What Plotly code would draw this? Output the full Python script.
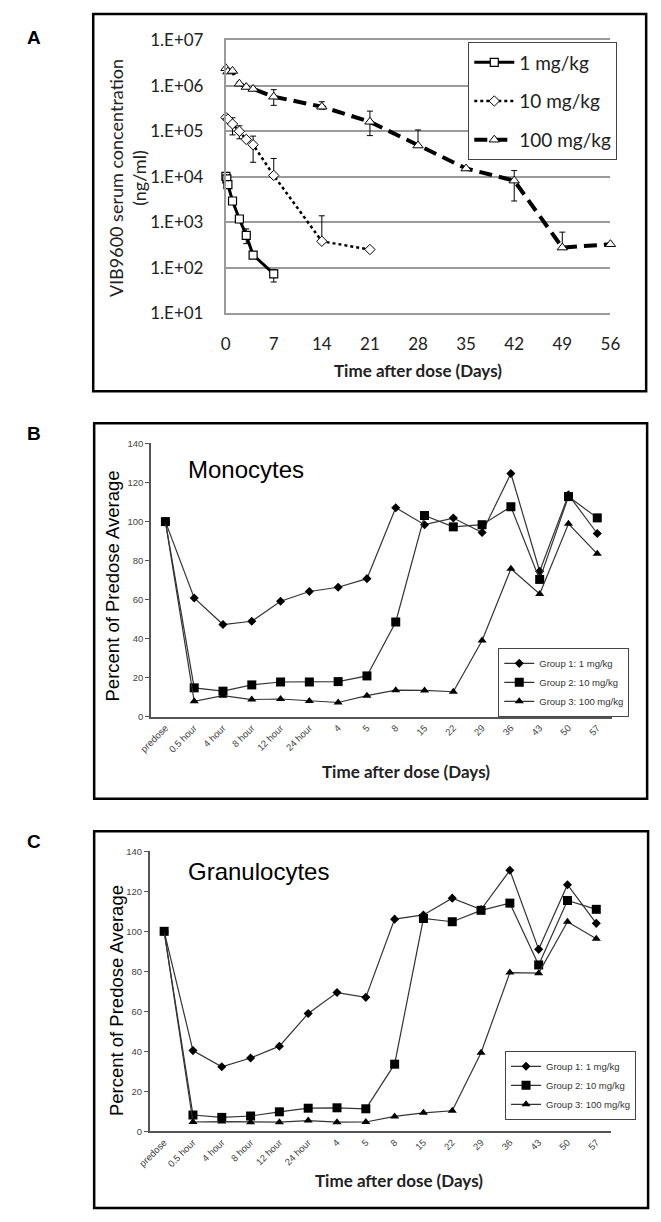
import plotly.graph_objects as go

W, H = 661, 1222

# ---------------- Panel A data (serum concentration, ng/ml) ----------------
t_1mg = [0.04, 0.17, 0.33, 1, 2, 3, 4, 7]
c_1mg = [10300, 9100, 6800, 2960, 1190, 519, 192, 74]
hi_1mg = [None, None, None, None, None, 721, None, 91]
lo_1mg = [None, None, None, None, None, 342, None, 49]

t_10mg = [0.04, 0.33, 1, 2, 3, 4, 7, 14, 21]
c_10mg = [203000, 187000, 146000, 101000, 67000, 51000, 10800, 385, 254]
hi_10mg = [None, None, 200000, 133000, None, 79000, 25500, 1400, None]
lo_10mg = [None, None, 84000, 69000, None, 21000, None, None, None]

t_100mg = [0.04, 0.33, 1, 2, 3, 4, 7, 14, 21, 28, 35, 42, 49, 56]
c_100mg = [2450000, 2070000, 2140000, 1120000, 950000, 860000, 580000,
           350000, 163000, 49000, 15300, 8300, 280, 332]
hi_100mg = [None, None, None, None, None, None, 830000, 450000, 280000,
            108000, None, 13800, 612, None]
lo_100mg = [None, None, None, None, None, None, 375000, 310000, 81000,
            None, None, 2960, None, None]

a_xticks = [0, 7, 14, 21, 28, 35, 42, 49, 56]
a_yticks = [1e1, 1e2, 1e3, 1e4, 1e5, 1e6, 1e7]
a_yticktext = ["1.E+01", "1.E+02", "1.E+03", "1.E+04", "1.E+05", "1.E+06", "1.E+07"]

# ---------------- Panels B / C data (% of predose average) ----------------
timepoints = ["predose", "0.5 hour", "4 hour", "8 hour", "12 hour", "24 hour",
              "4", "5", "8", "15", "22", "29", "36", "43", "50", "57"]
mono_g1 = [100, 60.9, 47.3, 49, 59.2, 64.2, 66.4, 70.8, 107.1, 98.4, 101.8, 94.4, 124.6, 74.6, 113.7, 93.9]
mono_g2 = [100, 14.9, 13.2, 16.4, 17.9, 17.9, 18.1, 21, 48.6, 103.1, 97.3, 98.4, 107.6, 70.4, 112.8, 101.9]
mono_g3 = [100, 8, 10.9, 8.9, 9.2, 8.2, 7.4, 10.9, 13.7, 13.6, 12.9, 39.1, 75.8, 62.9, 98.9, 83.5]
gran_g1 = [100, 40.4, 32.3, 36.7, 42.6, 58.9, 69.4, 67, 106.1, 108.2, 116.6, 110.9, 130.5, 91, 123.3, 104]
gran_g2 = [100, 8.2, 7.0, 7.7, 9.8, 11.6, 11.8, 11.3, 33.6, 106.4, 104.8, 110.5, 114.1, 83.2, 115.4, 111]
gran_g3 = [100, 4.7, 4.9, 4.6, 4.6, 5.4, 4.6, 4.7, 7.5, 9.3, 10.3, 39.3, 79.4, 79.1, 104.8, 96.3]
group_names = ["Group 1: 1 mg/kg", "Group 2: 10 mg/kg", "Group 3: 100 mg/kg"]


def px(x):
    return x / W


def py(y):
    return 1 - y / H


def err(vals, his, los):
    plus = [(h - v) if h is not None else 0 for v, h in zip(vals, his)]
    minus = [(v - l) if l is not None else 0 for v, l in zip(vals, los)]
    return dict(type="data", symmetric=False, array=plus, arrayminus=minus,
                color="black", thickness=1, width=3)


fig = go.Figure()

# ---- Panel A traces ----
fig.add_trace(go.Scatter(
    x=t_1mg, y=c_1mg, name="1 mg/kg", mode="lines+markers",
    line=dict(color="black", width=3),
    marker=dict(symbol="square", size=8, color="white", line=dict(color="black", width=1.2)),
    error_y=err(c_1mg, hi_1mg, lo_1mg), cliponaxis=False,
    xaxis="x", yaxis="y", legend="legend", legendgroup="a1"))
fig.add_trace(go.Scatter(
    x=t_10mg, y=c_10mg, name="10 mg/kg", mode="lines+markers",
    line=dict(color="black", width=2.5, dash="dot"),
    marker=dict(symbol="diamond", size=8, color="white", line=dict(color="black", width=1)),
    error_y=err(c_10mg, hi_10mg, lo_10mg), cliponaxis=False,
    xaxis="x", yaxis="y", legend="legend", legendgroup="a2"))
fig.add_trace(go.Scatter(
    x=t_100mg, y=c_100mg, name="100 mg/kg", mode="lines+markers",
    line=dict(color="black", width=4, dash="13px,7px"),
    marker=dict(symbol="triangle-up", size=9, color="white", line=dict(color="black", width=1)),
    error_y=err(c_100mg, hi_100mg, lo_100mg), cliponaxis=False,
    xaxis="x", yaxis="y", legend="legend", legendgroup="a3"))

# ---- Panels B and C traces ----
symbols = ["diamond", "square", "triangle-up"]
sizes = [7, 9, 8]
for (series, xa, ya, lg) in [((mono_g1, mono_g2, mono_g3), "x2", "y2", "legend2"),
                             ((gran_g1, gran_g2, gran_g3), "x3", "y3", "legend3")]:
    for vals, nm, sym, sz in zip(series, group_names, symbols, sizes):
        fig.add_trace(go.Scatter(
            x=timepoints, y=vals, name=nm, mode="lines+markers",
            line=dict(color="#333333", width=1.2),
            marker=dict(symbol=sym, size=sz, color="black"),
            cliponaxis=False,
            xaxis=xa, yaxis=ya, legend=lg))

tickfont_small = dict(family="Liberation Sans, Arial", size=9.5, color="#444")

fig.update_layout(
    width=W, height=H,
    margin=dict(l=0, r=0, t=0, b=0),
    paper_bgcolor="white", plot_bgcolor="white",
    font=dict(family="Lato", color="#222"),
    xaxis=dict(domain=[px(221), px(619)], anchor="y", range=[0, 56],
               tickvals=a_xticks, showgrid=False, zeroline=False,
               showline=True, mirror=True, linecolor="#9a9a9a", linewidth=1.5,
               ticks="", ticklabelstandoff=14,
               tickfont=dict(family="Lato", size=17, color="#222")),
    yaxis=dict(domain=[py(307.7), py(30)], anchor="x", type="log", range=[1, 7],
               tickvals=a_yticks, ticktext=a_yticktext,
               showgrid=True, gridcolor="#9a9a9a", gridwidth=1.5,
               showline=True, linecolor="#9a9a9a", linewidth=1.5,
               zeroline=False, ticks="", ticklabelstandoff=17,
               tickfont=dict(family="Lato", size=17, color="#222")),
    xaxis2=dict(domain=[px(143.8), px(620.3)], anchor="y2", type="category",
                range=[-0.5, 15.5], showgrid=False, zeroline=False,
                showline=True, linecolor="#555", linewidth=1.5, ticks="",
                tickangle=-45, tickfont=tickfont_small),
    yaxis2=dict(domain=[py(718.3), py(440)], anchor="x2", range=[0, 140], dtick=20,
                showgrid=False, zeroline=False, showline=True, linecolor="#555",
                linewidth=1.5, ticks="outside", ticklen=4, tickcolor="#555",
                tickfont=tickfont_small),
    xaxis3=dict(domain=[px(142.5), px(619.3)], anchor="y3", type="category",
                range=[-0.5, 15.5], showgrid=False, zeroline=False,
                showline=True, linecolor="#555", linewidth=1.5, ticks="",
                tickangle=-45, tickfont=tickfont_small),
    yaxis3=dict(domain=[py(1140), py(855)], anchor="x3", range=[0, 140], dtick=20,
                showgrid=False, zeroline=False, showline=True, linecolor="#555",
                linewidth=1.5, ticks="outside", ticklen=4, tickcolor="#555",
                tickfont=tickfont_small),
    legend=dict(x=px(472), y=py(32), xanchor="left", yanchor="top",
                bgcolor="white", bordercolor="#444", borderwidth=1,
                font=dict(family="Lato", size=19, color="#222"),
                tracegroupgap=11, itemwidth=40),
    legend2=dict(x=px(503), y=py(648), xanchor="left", yanchor="top",
                 bgcolor="white", bordercolor="#444", borderwidth=1,
                 font=dict(family="Liberation Sans, Arial", size=9.5, color="#333"),
                 tracegroupgap=0, itemwidth=30),
    legend3=dict(x=px(510), y=py(1058), xanchor="left", yanchor="top",
                 bgcolor="white", bordercolor="#444", borderwidth=1,
                 font=dict(family="Liberation Sans, Arial", size=9.5, color="#333"),
                 tracegroupgap=0, itemwidth=30),
    showlegend=True,
)

frame = dict(type="rect", xref="paper", yref="paper", line=dict(color="black", width=2.5),
             fillcolor="rgba(0,0,0,0)")
fig.add_shape(x0=px(84), x1=px(656), y0=py(387), y1=py(3), **frame)
fig.add_shape(x0=px(85), x1=px(657), y0=py(801.5), y1=py(419.5), **frame)
fig.add_shape(x0=px(85), x1=px(658), y0=py(1218), y1=py(834.5), **frame)

ann = []
bold_letter = dict(family="Liberation Sans, Arial", size=19, color="black")
for letter, yy in [("<b>A</b>", 27), ("<b>B</b>", 430), ("<b>C</b>", 845)]:
    ann.append(dict(text=letter, x=px(23), y=py(yy), xref="paper", yref="paper",
                    showarrow=False, xanchor="center", yanchor="middle", font=bold_letter))

# Panel A titles
ann.append(dict(text="VIB9600 serum concentration<br>(ng/ml)", x=px(119), y=py(170),
                xref="paper", yref="paper", showarrow=False, textangle=-90,
                xanchor="center", yanchor="middle",
                font=dict(family="Lato", size=18, color="#222")))
ann.append(dict(text="<b>Time after dose (Days)</b>", x=px(420), y=py(366),
                xref="paper", yref="paper", showarrow=False,
                xanchor="center", yanchor="middle",
                font=dict(family="Lato", size=17, color="#222")))

# Panel B / C titles
for title, cx, cy, ytx, yty, xtx, xty in [
        ("Monocytes", 242, 467, 104, 585, 408, 774),
        ("Granulocytes", 255, 876, 108, 1007, 400, 1190)]:
    ann.append(dict(text=title, x=px(cx), y=py(cy), xref="paper", yref="paper",
                    showarrow=False, xanchor="center", yanchor="middle",
                    font=dict(family="Liberation Sans, Arial", size=24, color="black")))
    ann.append(dict(text="Percent of Predose Average", x=px(ytx), y=py(yty),
                    xref="paper", yref="paper", showarrow=False, textangle=-90,
                    xanchor="center", yanchor="middle",
                    font=dict(family="Liberation Sans, Arial", size=18.5, color="black")))
    ann.append(dict(text="<b>Time after dose (Days)</b>", x=px(xtx), y=py(xty),
                    xref="paper", yref="paper", showarrow=False,
                    xanchor="center", yanchor="middle",
                    font=dict(family="Lato", size=17, color="#222")))

fig.update_layout(annotations=ann)

fig.write_html("out.html",
               config={"displayModeBar": False},
               post_script="document.body.style.margin='0px';"
                           "document.body.style.overflow='hidden';")
